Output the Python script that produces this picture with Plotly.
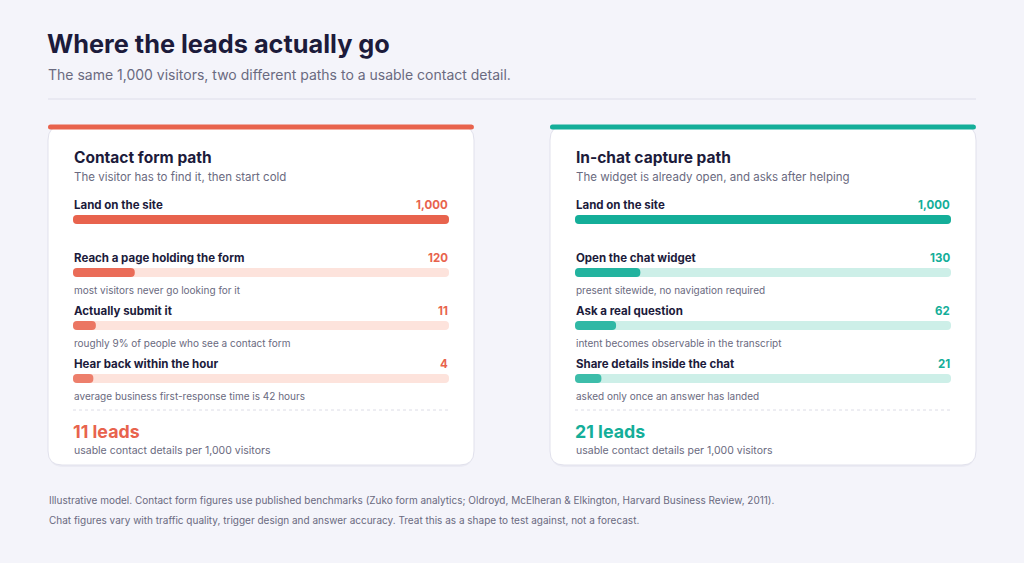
import plotly.graph_objects as go

# ---------------- data ----------------
title = "Where the leads actually go"
subtitle = "The same 1,000 visitors, two different paths to a usable contact detail."

form_title = "Contact form path"
form_sub = "The visitor has to find it, then start cold"
form_steps = ["Land on the site", "Reach a page holding the form", "Actually submit it", "Hear back within the hour"]
form_values = [1000, 120, 11, 4]
form_notes = ["", "most visitors never go looking for it",
              "roughly 9% of people who see a contact form",
              "average business first-response time is 42 hours"]
form_leads = 11

chat_title = "In-chat capture path"
chat_sub = "The widget is already open, and asks after helping"
chat_steps = ["Land on the site", "Open the chat widget", "Ask a real question", "Share details inside the chat"]
chat_values = [1000, 130, 62, 21]
chat_notes = ["", "present sitewide, no navigation required",
              "intent becomes observable in the transcript",
              "asked only once an answer has landed"]
chat_leads = 21

leads_caption = "usable contact details per 1,000 visitors"
footer = [
    "Illustrative model. Contact form figures use published benchmarks (Zuko form analytics; Oldroyd, McElheran & Elkington, Harvard Business Review, 2011).",
    "Chat figures vary with traffic quality, trigger design and answer accuracy. Treat this as a shape to test against, not a forecast.",
]

# ---------------- style ----------------
W, H = 1024, 563
BG = "#f4f4fa"
NAVY = "#1c1b3b"
GRAY = "#6a6a80"
CORAL = "#e8634d"
CORAL_TRACK = "#fde3dc"
TEAL = "#14ae99"
TEAL_TRACK = "#cdefe8"
FONT = "Inter"
BASE = -53          # minimum visible stub of every bar (data units)
FULL = 1000
step_opacity = [1.0, 0.93, 0.85, 0.78]

cards = [
    dict(x0=48, x1=474, color=CORAL, track=CORAL_TRACK, title=form_title, sub=form_sub,
         steps=form_steps, values=form_values, notes=form_notes, leads=form_leads, xa="x", ya="y"),
    dict(x0=550, x1=976, color=TEAL, track=TEAL_TRACK, title=chat_title, sub=chat_sub,
         steps=chat_steps, values=chat_values, notes=chat_notes, leads=chat_leads, xa="x2", ya="y2"),
]
CARD_TOP, CARD_BOT = 126, 465
PAD = 25
ROW0, ROW_STEP = 219.5, 53


def px(x):
    return x / W


def py(y):
    return 1 - y / H


def rrect(x0, y0, x1, y1, r):
    pts = []
    P = lambda x, y: f"{px(x):.5f},{py(y):.5f}"
    return (f"M{P(x0+r,y0)} L{P(x1-r,y0)} Q{P(x1,y0)} {P(x1,y0+r)} L{P(x1,y1-r)} Q{P(x1,y1)} {P(x1-r,y1)} "
            f"L{P(x0+r,y1)} Q{P(x0,y1)} {P(x0,y1-r)} L{P(x0,y0+r)} Q{P(x0,y0)} {P(x0+r,y0)} Z")


fig = go.Figure()
shapes, ann = [], []


def text(x, y, s, size, color, bold=False, anchor="left"):
    ann.append(dict(x=px(x), y=py(y), xref="paper", yref="paper", text=s, showarrow=False,
                    xanchor=anchor, yanchor="middle", borderpad=0,
                    font=dict(family=FONT, size=size, color=color, weight=700 if bold else 400)))


# header
text(46, 44, title, 25.3, NAVY, bold=True)
text(47, 74, subtitle, 14, GRAY)
shapes.append(dict(type="line", xref="paper", yref="paper", x0=px(48), x1=px(976), y0=py(99), y1=py(99),
                   line=dict(color="#dedeea", width=1), layer="below"))

n = len(form_steps)
for c in cards:
    x0, x1 = c["x0"], c["x1"]
    lx, rx = x0 + PAD, x1 - PAD
    # card body + top accent
    shapes.append(dict(type="path", xref="paper", yref="paper", path=rrect(x0 + 1, CARD_TOP + 2, x1 - 1, CARD_BOT + 2, 14),
                       fillcolor="rgba(30,30,80,0.04)", line=dict(width=0), layer="below"))
    shapes.append(dict(type="path", xref="paper", yref="paper", path=rrect(x0, CARD_TOP, x1, CARD_BOT, 14),
                       fillcolor="white", line=dict(color="#e1e1ec", width=1), layer="below"))
    shapes.append(dict(type="path", xref="paper", yref="paper", path=rrect(x0, 124.5, x1, 129.5, 2.5),
                       fillcolor=c["color"], line=dict(width=0), layer="below"))
    text(lx, 157, c["title"], 15.5, NAVY, bold=True)
    text(lx, 177, c["sub"], 11.5, GRAY)
    for i in range(n):
        yc = ROW0 + ROW_STEP * i
        text(lx, yc - 15, c["steps"][i], 11.5, NAVY, bold=True)
        text(rx, yc - 15, f"{c['values'][i]:,}", 11.5, c["color"], bold=True, anchor="right")
        if c["notes"][i]:
            text(lx, yc + 17, c["notes"][i], 10, GRAY)
    shapes.append(dict(type="line", xref="paper", yref="paper", x0=px(lx), x1=px(rx), y0=py(410), y1=py(410),
                       line=dict(color="#dcdce6", width=1, dash="3px,3px"), layer="below"))
    text(lx - 1, 431, f"{c['leads']} leads", 17.8, c["color"], bold=True)
    text(lx, 450, leads_caption, 10.5, GRAY)

    idx = list(range(n))
    fig.add_trace(go.Bar(orientation="h", y=idx, x=[FULL - BASE] * n, base=BASE, width=0.17,
                         marker=dict(color=c["track"], line=dict(width=0)),
                         xaxis=c["xa"], yaxis=c["ya"], hoverinfo="skip", showlegend=False))
    fig.add_trace(go.Bar(orientation="h", y=idx, x=[v - BASE for v in c["values"]], base=BASE, width=0.17,
                         marker=dict(color=c["color"], opacity=step_opacity, line=dict(width=0)),
                         xaxis=c["xa"], yaxis=c["ya"], hoverinfo="skip", showlegend=False))

# footer
text(48, 500, footer[0], 10.0, GRAY)
text(48, 520, footer[1], 10.0, GRAY)

ydom = [1 - (ROW0 + ROW_STEP * (n - 1) + ROW_STEP / 2) / H, 1 - (ROW0 - ROW_STEP / 2) / H]
hidden = dict(showgrid=False, zeroline=False, showticklabels=False, ticks="", showline=False, fixedrange=True)
fig.update_layout(
    width=W, height=H, margin=dict(l=0, r=0, t=0, b=0),
    paper_bgcolor=BG, plot_bgcolor="rgba(0,0,0,0)",
    barmode="overlay", barcornerradius=4, hovermode=False,
    xaxis=dict(domain=[(48 + PAD) / W, (474 - PAD) / W], range=[BASE, FULL], anchor="y", **hidden),
    yaxis=dict(domain=ydom, range=[n - 0.5, -0.5], anchor="x", **hidden),
    xaxis2=dict(domain=[(550 + PAD) / W, (976 - PAD) / W], range=[BASE, FULL], anchor="y2", **hidden),
    yaxis2=dict(domain=ydom, range=[n - 0.5, -0.5], anchor="x2", **hidden),
    shapes=shapes, annotations=ann,
)
fig.write_html("out.html", config={"displayModeBar": False, "staticPlot": True},
               post_script=f"document.body.style.margin='0';document.body.style.background='{BG}';")
